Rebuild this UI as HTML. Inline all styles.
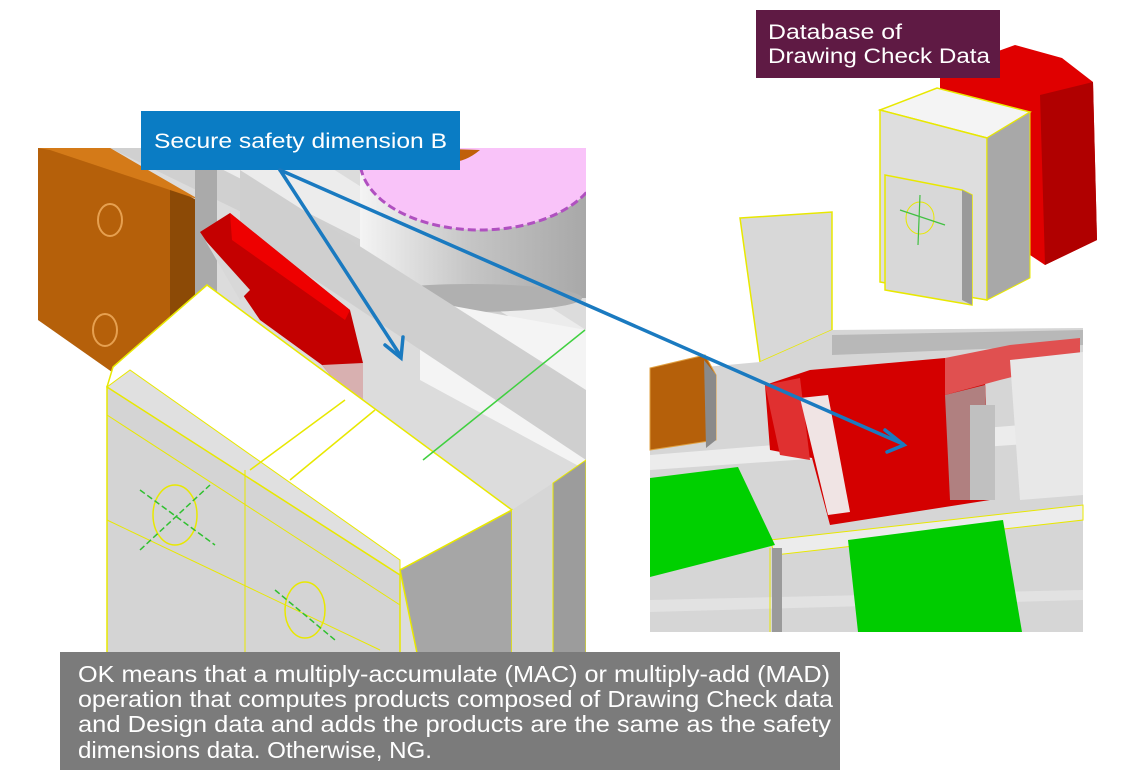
<!DOCTYPE html>
<html><head><meta charset="utf-8"><style>
html,body{margin:0;padding:0;background:#fff;}
svg{display:block}
</style></head><body>
<svg width="1137" height="780" viewBox="0 0 1137 780" xmlns="http://www.w3.org/2000/svg">
<defs>
<clipPath id="L"><rect x="38" y="148" width="548" height="510"/></clipPath>
<linearGradient id="cyl" x1="0" x2="1"><stop offset="0" stop-color="#f4f4f4"/><stop offset="0.5" stop-color="#c4c4c4"/><stop offset="1" stop-color="#a8a8a8"/></linearGradient>
</defs>
<rect width="1137" height="780" fill="#fff"/>

<g clip-path="url(#L)">
<rect x="38" y="148" width="548" height="510" fill="#dcdcdc"/>
<polygon points="38,320 112,372 107,387 107,658 38,658" fill="#ffffff"/>
<polygon points="110,148 250,148 586,340 586,380" fill="#d0d0d0"/>
<polygon points="180,148 300,148 586,330 586,360 480,300" fill="#ececec"/>
<rect x="360" y="148" width="226" height="150" fill="url(#cyl)"/>
<ellipse cx="470" cy="298" rx="112" ry="14" fill="#b0b0b0"/>
<ellipse cx="480" cy="160" rx="120" ry="70" fill="#f9c3f9" stroke="#b050c0" stroke-width="3" stroke-dasharray="8,4"/>
<path d="M420 148 Q450 175 480 150" fill="#c0600a"/>
<polygon points="420,300 586,330 586,470 420,380" fill="#f4f4f4"/>
<polygon points="240,170 586,390 586,460 240,230" fill="#cfcfcf"/>
<polygon points="38,148 110,148 190,195 190,345 112,372 38,320" fill="#b5600a"/>
<polygon points="170,185 205,205 200,340 170,350" fill="#8c4a06"/>
<polygon points="38,148 110,148 200,200 170,190 50,150" fill="#d47a18"/>
<ellipse cx="110" cy="220" rx="12" ry="16" fill="none" stroke="#e6a050" stroke-width="2"/>
<ellipse cx="105" cy="330" rx="12" ry="16" fill="none" stroke="#e6a050" stroke-width="2"/>
<rect x="195" y="170" width="22" height="130" fill="#aaaaaa"/>
<polygon points="200,232 230,213 350,310 363,363 363,415 322,365 260,320" fill="#c40000"/>
<polygon points="230,213 350,310 345,320 232,240" fill="#ee0000"/>
<polygon points="205,240 240,300 250,290" fill="#d8d8d8"/>
<polygon points="322,365 363,363 363,415" fill="#d8b0b0"/>
<polygon points="113,367 207,285 512,510 400,570 107,387" fill="#ffffff" stroke="#e8e800" stroke-width="1.5"/>
<polygon points="107,387 130,370 400,560 400,575" fill="#e0e0e0" stroke="#e8e800" stroke-width="1"/>
<line x1="250" y1="470" x2="345" y2="400" stroke="#e8e800" stroke-width="1.5"/>
<line x1="290" y1="480" x2="375" y2="410" stroke="#e8e800" stroke-width="1.5"/>
<line x1="423" y1="460" x2="585" y2="330" stroke="#40d040" stroke-width="1.5"/>
<polygon points="107,387 400,575 400,658 107,658" fill="#d4d4d4" stroke="#e8e800" stroke-width="1.5"/>
<line x1="107" y1="415" x2="400" y2="605" stroke="#e8e800" stroke-width="1"/>
<line x1="107" y1="520" x2="380" y2="650" stroke="#e8e800" stroke-width="1"/>
<line x1="245" y1="470" x2="245" y2="658" stroke="#e8e800" stroke-width="1"/>
<ellipse cx="175" cy="515" rx="22" ry="30" fill="none" stroke="#e8e800" stroke-width="1.5"/>
<line x1="140" y1="490" x2="215" y2="545" stroke="#30c030" stroke-width="1.5" stroke-dasharray="6,3"/>
<line x1="140" y1="550" x2="210" y2="485" stroke="#30c030" stroke-width="1.5" stroke-dasharray="6,3"/>
<ellipse cx="305" cy="610" rx="20" ry="28" fill="none" stroke="#e8e800" stroke-width="1.5"/>
<line x1="275" y1="590" x2="335" y2="640" stroke="#30c030" stroke-width="1.5" stroke-dasharray="6,3"/>
<polygon points="400,570 512,510 512,658 418,658" fill="#a6a6a6" stroke="#e8e800" stroke-width="1.5"/>
<polygon points="512,510 553,483 553,658 512,658" fill="#d6d6d6"/>
<polygon points="553,483 586,460 586,658 553,658" fill="#9c9c9c" stroke="#e8e800" stroke-width="1"/>
</g>

<g>
<polygon points="940,72 1015,45 1062,58 1093,82 1097,240 1045,265 1000,235 940,110" fill="#e00000"/>
<polygon points="1040,95 1093,82 1097,240 1045,265" fill="#b00000"/>
<polygon points="880,110 937,88 1030,112 987,138" fill="#f4f4f4" stroke="#e8e800" stroke-width="1.5"/>
<polygon points="880,110 987,138 987,300 880,282" fill="#dedede" stroke="#e8e800" stroke-width="1.5"/>
<polygon points="987,138 1030,112 1030,278 987,300" fill="#a8a8a8" stroke="#e8e800" stroke-width="1"/>
<polygon points="885,175 962,190 972,195 972,305 885,290" fill="#d8d8d8" stroke="#e8e800" stroke-width="1.5"/>
<polygon points="962,190 972,195 972,305 962,300" fill="#9a9a9a"/>
<ellipse cx="920" cy="218" rx="14" ry="16" fill="none" stroke="#e8e800" stroke-width="1"/>
<line x1="900" y1="210" x2="945" y2="225" stroke="#40c040" stroke-width="1.2"/>
<line x1="920" y1="195" x2="918" y2="245" stroke="#40c040" stroke-width="1.2"/>
<polygon points="740,218 832,212 832,330 760,362" fill="#d8d8d8" stroke="#e8e800" stroke-width="1.5"/>
<polygon points="760,362 832,330 1083,328 1083,632 650,632 650,372" fill="#d6d6d6"/>
<polygon points="832,335 1083,330 1083,345 832,355" fill="#b8b8b8"/>
<polygon points="650,455 1083,420 1083,440 650,470" fill="#ececec"/>
<polygon points="650,600 1083,590 1083,600 650,612" fill="#e2e2e2"/>
<polygon points="770,540 1083,505 1083,520 775,555" fill="#ececec" stroke="#e8e800" stroke-width="1"/>
<polygon points="650,368 705,355 716,375 716,440 650,450" fill="#b5600a" stroke="#e0a040" stroke-width="1"/>
<polygon points="704,360 716,375 716,440 706,448" fill="#8a8a8a"/>
<polygon points="765,385 810,370 945,358 985,380 990,500 830,525 812,458 770,450" fill="#d40000"/>
<polygon points="765,385 800,378 810,460 780,455" fill="#e03030"/>
<polygon points="800,398 828,395 850,512 828,515" fill="#f0e4e4"/>
<polygon points="945,395 985,385 990,500 950,500" fill="#b08080"/>
<polygon points="945,358 1010,345 1080,338 1080,360 1000,380 945,395" fill="#e05050"/>
<polygon points="1010,360 1083,352 1083,495 1020,500" fill="#e8e8e8"/>
<rect x="970" y="405" width="25" height="95" fill="#c0c0c0"/>
<polygon points="650,478 738,467 775,545 650,577" fill="#00d000"/>
<polygon points="848,540 1003,520 1022,632 858,632" fill="#00cc00"/>
<rect x="772" y="548" width="10" height="84" fill="#9a9a9a"/>
<line x1="770" y1="548" x2="770" y2="632" stroke="#e8e800" stroke-width="1"/>
</g>

<rect x="756" y="10" width="244" height="68" fill="#5f1a44"/>
<text x="768" y="39" font-family="Liberation Sans, sans-serif" font-size="21" fill="#fff" textLength="134" lengthAdjust="spacingAndGlyphs">Database of</text>
<text x="768" y="63" font-family="Liberation Sans, sans-serif" font-size="21" fill="#fff" textLength="222" lengthAdjust="spacingAndGlyphs">Drawing Check Data</text>

<rect x="141" y="111" width="319" height="59" fill="#0a7cc4"/>
<text x="154" y="148" font-family="Liberation Sans, sans-serif" font-size="21" fill="#fff" textLength="293" lengthAdjust="spacingAndGlyphs">Secure safety dimension B</text>

<g stroke="#1a7ac0" stroke-width="3.5" fill="none" stroke-linecap="round">
<line x1="280" y1="170" x2="400" y2="355"/>
<polyline points="385,345 401,358 403,337"/>
<line x1="280" y1="170" x2="903" y2="444"/>
<polyline points="885,430 904,445 887,452"/>
</g>

<rect x="60" y="652" width="780" height="118" fill="#7b7b7b"/>
<g font-family="Liberation Sans, sans-serif" font-size="23" fill="#fff">
<text x="78" y="682" textLength="752" lengthAdjust="spacingAndGlyphs">OK means that a multiply-accumulate (MAC) or multiply-add (MAD)</text>
<text x="78" y="707" textLength="755" lengthAdjust="spacingAndGlyphs">operation that computes products composed of Drawing Check data</text>
<text x="78" y="732" textLength="753" lengthAdjust="spacingAndGlyphs">and Design data  and adds the products are the same as the safety</text>
<text x="78" y="758" textLength="354" lengthAdjust="spacingAndGlyphs">dimensions data. Otherwise, NG.</text>
</g>
</svg>
</body></html>
